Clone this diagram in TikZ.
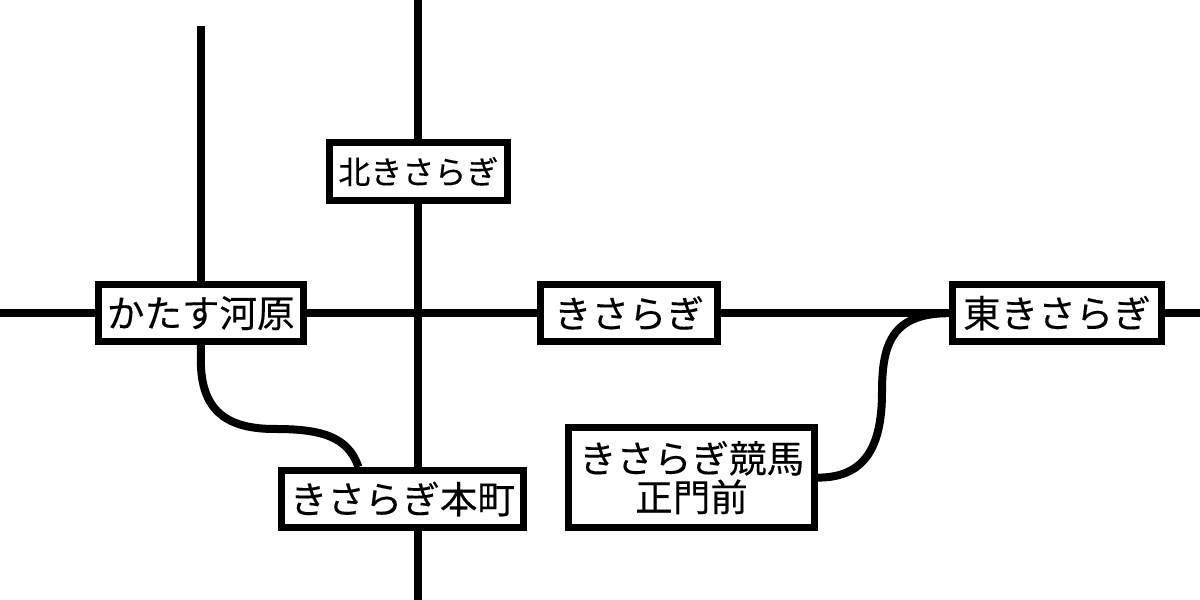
\documentclass[tikz,border=0pt]{standalone}
\usepackage{fontspec}
\setmainfont[FakeBold=0.2]{Noto Sans CJK JP}
\usetikzlibrary{backgrounds}
\tikzset{
  station/.style={draw=black,fill=white,line width=1.75mm,inner sep=0pt,align=center,minimum height=14.25mm,font=\fontsize{26.7}{27.5}\selectfont},
  railway/.style={draw=black,line width=2mm}
}
\begin{document}
\begin{tikzpicture}[x=1mm,y=1mm]
        \useasboundingbox (0,0) rectangle (300,150);
        \coordinate (westend) at (0,71.7);
        \coordinate (eastend) at (300,71.7);
        \coordinate (northend) at (104.5,150);
        \coordinate (southend) at (104.5,0);
        \coordinate (kataend) at (50.2,143.5);

        \node[station,minimum width=51.25mm] (katasu) at (50.2,71.7) {かたす河原};
        \node[station,minimum width=44.5mm,minimum height=14.5mm,font=\fontsize{22.8}{23.5}\selectfont] (kita) at (104.6,107.1) {北きさらぎ};
        \node[station,minimum width=44.25mm] (kisaragi) at (157.25,71.7) {きさらぎ};
        \node[station,minimum width=52.25mm] (higashi) at (264.25,71.7) {東きさらぎ};
        \node[station,minimum width=60.5mm] (honmachi) at (100.6,25.25) {きさらぎ本町};
        \node[station,minimum width=61.5mm,minimum height=25mm] (keiba) at (172.9,30.6) {きさらぎ競馬\\正門前};

        \begin{scope}[on background layer]
          \draw[railway] (westend) -- (katasu) -- (kisaragi) -- (higashi) -- (eastend);
          \draw[railway] (northend) -- (southend);
          \draw[railway] (kataend) -- (katasu);
          \draw[railway] (katasu.south) -- (50.2,60) .. controls (50.2,47) and (57,42.75) .. (68.75,42.75) .. controls (80,42.75) and (87,41) .. ([xshift=-11mm]honmachi.north);
          \draw[railway] (keiba.east) .. controls (216,30.6) and (220.5,38) .. (220.5,52) .. controls (220.5,64) and (223,71.7) .. (higashi.west);
        \end{scope}
\end{tikzpicture}
\end{document}
